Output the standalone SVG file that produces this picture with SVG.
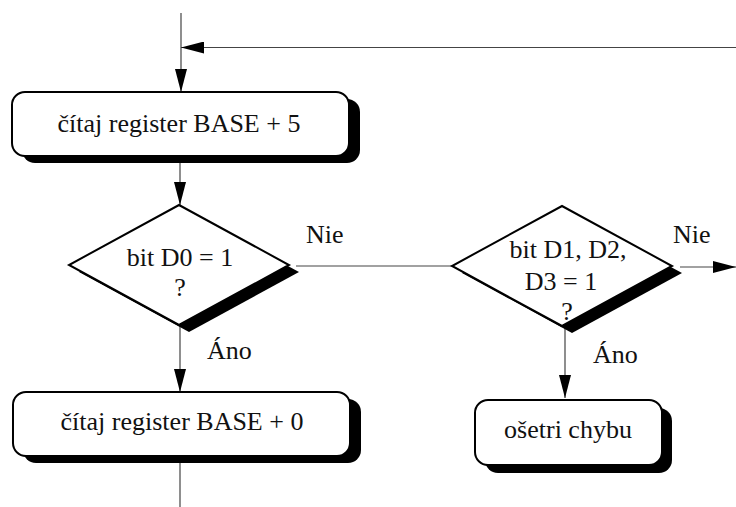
<svg xmlns="http://www.w3.org/2000/svg" width="736" height="507" viewBox="0 0 736 507">
  <defs>
    <style>
      .line { stroke: #444; stroke-width: 1.2; fill: none; }
      .box { fill: #fff; stroke: #000; stroke-width: 2; }
      .shadow { fill: #000; stroke: none; }
      .txt { font-family: "Liberation Serif", "Times New Roman", serif; font-size: 26px; fill: #111; text-anchor: middle; }
      .lbl { font-family: "Liberation Serif", "Times New Roman", serif; font-size: 26px; fill: #111; }
    </style>
    <marker id="arrow" viewBox="0 0 23 12" refX="23" refY="6" markerWidth="23" markerHeight="12" markerUnits="userSpaceOnUse" orient="auto">
      <path d="M0,0 L23,6 L0,12 Z" fill="#000"/>
    </marker>
  </defs>

  <!-- connectors -->
  <g id="connectors">
    <line class="line" x1="181" y1="13" x2="181" y2="92" marker-end="url(#arrow)"/>
    <line class="line" x1="736" y1="47.5" x2="181" y2="47.5" marker-end="url(#arrow)"/>
    <line class="line" x1="180" y1="156" x2="180" y2="205" marker-end="url(#arrow)"/>
    <line class="line" x1="180" y1="325" x2="180" y2="392" marker-end="url(#arrow)"/>
    <line class="line" x1="180" y1="456" x2="180" y2="507"/>
    <line class="line" x1="296" y1="266" x2="452" y2="266"/>
    <line class="line" x1="680" y1="267" x2="736" y2="267" marker-end="url(#arrow)"/>
    <line class="line" x1="565" y1="326" x2="565" y2="398" marker-end="url(#arrow)"/>
    <text class="lbl" x="306" y="243">Nie</text>
    <text class="lbl" x="673" y="243">Nie</text>
    <text class="lbl" x="207" y="359">Áno</text>
    <text class="lbl" x="593" y="363">Áno</text>
  </g>

  <!-- read BASE+5 -->
  <g id="read5">
    <rect class="shadow" x="22" y="99" width="338" height="64" rx="13"/>
    <rect class="box" x="12" y="92" width="337" height="64" rx="13"/>
    <text class="txt" x="179" y="132">čítaj register BASE + 5</text>
  </g>

  <!-- test D0 -->
  <g id="testD0">
    <polygon class="shadow" points="188,212 299,272 189,332 79,272"/>
    <polygon class="box" points="179,205 289,265 179,325 69,265"/>
    <text class="txt" x="180" y="266">bit D0 = 1</text>
    <text class="txt" x="180" y="296">?</text>
  </g>

  <!-- test D1..D3 -->
  <g id="testD123">
    <polygon class="shadow" points="571,213 682,273 572,333 462,273"/>
    <polygon class="box" points="562,206 672,266 562,326 452,266"/>
    <text class="txt" x="568" y="258">bit D1, D2,</text>
    <text class="txt" x="561" y="290">D3 = 1</text>
    <text class="txt" x="567" y="320">?</text>
  </g>

  <!-- read BASE+0 -->
  <g id="read0">
    <rect class="shadow" x="23" y="399" width="338" height="64" rx="13"/>
    <rect class="box" x="13" y="392" width="337" height="64" rx="13"/>
    <text class="txt" x="182" y="430">čítaj register BASE + 0</text>
  </g>

  <!-- error handling -->
  <g id="handleError">
    <rect class="shadow" x="485" y="408" width="187" height="65" rx="13"/>
    <rect class="box" x="475" y="400" width="187" height="65" rx="13"/>
    <text class="txt" x="568" y="438">ošetri chybu</text>
  </g>
</svg>
